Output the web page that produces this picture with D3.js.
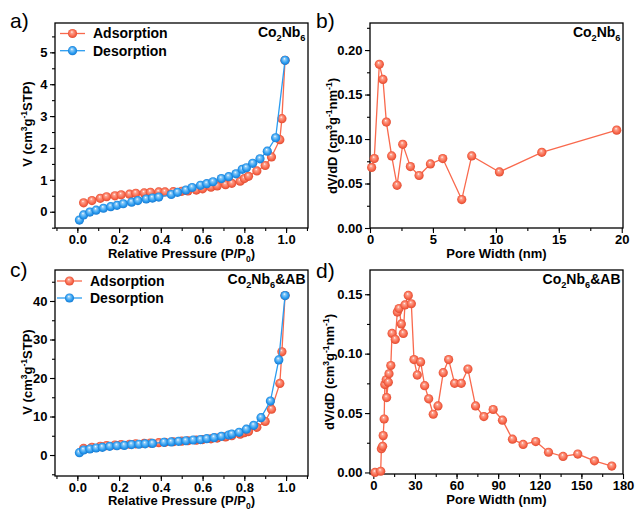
<!DOCTYPE html>
<html><head><meta charset="utf-8">
<script src="https://cdn.jsdelivr.net/npm/d3@7"></script>
<style>body{margin:0;background:#fff} text{font-family:"Liberation Sans",Arial,sans-serif;fill:#000}</style>
</head><body><svg id="chart" width="635" height="510"></svg>
<script>
// ---- Data ----
const isoA_adsP = [0.03,0.07,0.11,0.14,0.18,0.21,0.25,0.28,0.32,0.35,0.39,0.42,0.46,0.50,0.53,0.57,0.60,0.64,0.67,0.71,0.74,0.78,0.80,0.82,0.86,0.90,0.93,0.97,0.98,0.995];
const isoA_adsV = [0.28,0.35,0.42,0.47,0.50,0.53,0.55,0.58,0.59,0.61,0.62,0.62,0.63,0.64,0.65,0.68,0.72,0.77,0.81,0.85,0.89,0.96,1.04,1.11,1.28,1.45,1.72,2.26,2.92,4.75];
const isoA_desP = [0.01,0.03,0.06,0.09,0.125,0.16,0.19,0.22,0.26,0.29,0.33,0.36,0.39,0.45,0.48,0.52,0.55,0.59,0.62,0.65,0.69,0.725,0.76,0.79,0.81,0.84,0.875,0.91,0.95,0.995];
const isoA_desV = [-0.26,-0.10,-0.01,0.05,0.11,0.16,0.20,0.25,0.30,0.35,0.40,0.43,0.46,0.54,0.61,0.68,0.76,0.83,0.88,0.94,1.04,1.10,1.19,1.33,1.38,1.52,1.66,1.90,2.32,4.75];

const isoC_adsP = [0.03,0.07,0.11,0.14,0.18,0.21,0.25,0.28,0.32,0.35,0.39,0.42,0.46,0.50,0.53,0.57,0.60,0.64,0.67,0.71,0.74,0.78,0.80,0.82,0.86,0.90,0.93,0.97,0.98,0.995];
const isoC_adsV = [1.7,2.0,2.25,2.45,2.6,2.7,2.8,2.9,3.0,3.1,3.2,3.3,3.45,3.6,3.7,3.85,4.0,4.2,4.4,4.7,5.0,5.4,5.8,6.1,7.2,8.7,11.9,18.6,26.8,41.4];
const isoC_desP = [0.01,0.03,0.06,0.09,0.12,0.155,0.19,0.225,0.26,0.295,0.325,0.36,0.415,0.45,0.485,0.52,0.555,0.59,0.62,0.655,0.69,0.725,0.74,0.775,0.81,0.845,0.88,0.925,0.965,0.995];
const isoC_desV = [0.6,1.3,1.56,1.82,2.0,2.25,2.4,2.5,2.7,2.8,2.9,3.0,3.3,3.4,3.55,3.7,3.9,4.0,4.25,4.5,4.85,5.2,5.45,5.9,6.7,7.7,9.7,14.0,24.7,41.4];

const psdB_w = [0.13,0.34,0.74,1.03,1.30,1.72,2.15,2.60,3.21,3.90,4.80,5.78,7.29,8.08,10.28,13.65,19.6];
const psdB_v = [0.068,0.078,0.184,0.167,0.119,0.081,0.048,0.094,0.069,0.059,0.072,0.078,0.032,0.081,0.063,0.085,0.110];

const psdD_w = [1.2,5.3,5.8,6.7,7.1,7.8,8.3,9.3,9.6,10.8,11.3,12.6,13.5,15.8,17.3,18.5,20.2,21.6,22.8,25.2,27.4,29.3,31.7,34.1,37.0,39.9,43.2,46.6,50.4,54.3,58.6,63.4,68.2,73.7,79.7,86.4,93.1,100.3,108.0,117.1,126.3,136.8,147.4,159.4,171.9];
const psdD_v = [0.000,0.001,0.020,0.022,0.031,0.045,0.074,0.078,0.063,0.076,0.083,0.090,0.117,0.112,0.135,0.138,0.125,0.117,0.141,0.149,0.142,0.095,0.082,0.093,0.073,0.062,0.049,0.056,0.084,0.095,0.075,0.075,0.087,0.056,0.047,0.053,0.044,0.028,0.0236,0.026,0.017,0.0135,0.0155,0.0098,0.0054];

const pressureTicks = [0.0,0.2,0.4,0.6,0.8,1.0];
const vTicksA = [0,1,2,3,4,5];
const vTicksC = [0,10,20,30,40];
const widthTicksB = [0,5,10,15,20];
const widthTicksD = [0,30,60,90,120,150,180];
const dvTicksB = [0.00,0.05,0.10,0.15,0.20];
const dvTicksD = [0.00,0.05,0.10,0.15];
const seriesNames = ["Adsorption","Desorption"];

// ---- Drawing ----
const RED = "#F9694D", BLUE = "#2B9CF0";
const svg = d3.select("#chart");
const defs = svg.append("defs");
function grad(id, base, dark, light){
  const g = defs.append("radialGradient").attr("id", id)
    .attr("cx","50%").attr("cy","50%").attr("r","55%").attr("fx","42%").attr("fy","32%");
  g.append("stop").attr("offset","0%").attr("stop-color","#ffffff");
  g.append("stop").attr("offset","22%").attr("stop-color",light);
  g.append("stop").attr("offset","65%").attr("stop-color",base);
  g.append("stop").attr("offset","100%").attr("stop-color",dark);
}
grad("gRed", RED, "#D9442A", "#FCA491");
grad("gBlue", BLUE, "#1270C8", "#8FCBF7");

function rich(sel, parts, size){
  let prev = "n";
  parts.forEach(([t, m]) => {
    const ts = sel.append("tspan").text(t);
    let dy = 0;
    const sh = size * 0.38;
    if (prev === "n" && m === "sup") dy = -sh;
    if (prev === "sup" && m === "n") dy = sh;
    if (prev === "n" && m === "sub") dy = size*0.28;
    if (prev === "sub" && m === "n") dy = -size*0.28;
    if (dy) ts.attr("dy", dy);
    if (m !== "n") ts.attr("font-size", size*0.66);
    prev = m;
  });
}

function panel(c){
  const g = svg.append("g");
  const x = d3.scaleLinear().domain(c.xd).range([c.l, c.r]);
  const y = d3.scaleLinear().domain(c.yd).range([c.b, c.t]);
  const ax = d3.axisBottom(x).tickValues(c.xt).tickSize(5).tickFormat(c.xf);
  const axm = d3.axisBottom(x).tickValues(c.xm).tickSize(3).tickFormat("");
  const ay = d3.axisLeft(y).tickValues(c.yt).tickSize(5).tickFormat(c.yf);
  const aym = d3.axisLeft(y).tickValues(c.ym).tickSize(3).tickFormat("");
  [[axm,"b"],[ax,"b"],[aym,"l"],[ay,"l"]].forEach(([a, s]) => {
    const ag = g.append("g").attr("transform", s==="b" ? `translate(0,${c.b})` : `translate(${c.l},0)`).call(a);
    ag.select(".domain").remove();
    ag.selectAll("line").attr("stroke","#000").attr("stroke-width",1.1);
    ag.selectAll("text").attr("font-size",13).attr("font-weight","bold")
      .attr("font-family",'"Liberation Sans",Arial,sans-serif').attr("fill","#000");
    if (s==="b") ag.selectAll("text").attr("dy",null).attr("y", 15.5);
    else ag.selectAll("text").attr("x",-7.5);
  });
  g.append("rect").attr("x",c.l).attr("y",c.t).attr("width",c.r-c.l).attr("height",c.b-c.t)
    .attr("fill","none").attr("stroke","#000").attr("stroke-width",1.3);
  const pg = g.append("g");
  c.series.forEach(s => {
    const pts = s.xs.map((v,i)=>[v, s.ys[i]]);
    pg.append("path").attr("d", d3.line().x(d=>x(d[0])).y(d=>y(d[1]))(pts))
      .attr("fill","none").attr("stroke",s.color).attr("stroke-width",1.3);
    pg.selectAll(null).data(pts).enter().append("circle")
      .attr("cx",d=>x(d[0])).attr("cy",d=>y(d[1])).attr("r",4.6)
      .attr("fill",`url(#${s.grad})`);
  });
  const xt = g.append("text").attr("x",(c.l+c.r)/2).attr("y",c.xlY).attr("text-anchor","middle")
    .attr("font-size",13).attr("font-weight","bold");
  rich(xt, c.xl, 13);
  const yt = g.append("text").attr("transform",`translate(${c.ylX},${c.ylY}) rotate(-90)`)
    .attr("text-anchor","middle").attr("font-size",13).attr("font-weight","bold");
  rich(yt, c.yl, 13);
  g.append("text").attr("x",c.lx).attr("y",c.ly).attr("font-size",21).text(c.letter);
  const st = g.append("text").attr("x",c.r-2.5).attr("y",c.sy).attr("text-anchor","end")
    .attr("font-size",14).attr("font-weight","bold");
  rich(st, c.sample, 14);
  if (c.legend){
    c.series.forEach((s,i) => {
      const ly = c.legend.y + i*c.legend.dy;
      g.append("line").attr("x1",c.legend.x1).attr("x2",c.legend.x2).attr("y1",ly).attr("y2",ly)
        .attr("stroke",s.color).attr("stroke-width",1.3);
      g.append("circle").attr("cx",(c.legend.x1+c.legend.x2)/2).attr("cy",ly).attr("r",4.6)
        .attr("fill",`url(#${s.grad})`);
      g.append("text").attr("x",c.legend.tx).attr("y",ly+4.8).attr("font-size",14)
        .attr("font-weight","bold").text(seriesNames[i]);
    });
  }
}

const f1 = d3.format(".1f"), f0 = d3.format("d"), f2 = d3.format(".2f");
const xTitleP = [["Relative Pressure (P/P","n"],["0","sub"],[")","n"]];
const yTitleV = [["V (cm","n"],["3","sup"],["g","n"],["-1","sup"],["STP)","n"]];
const yTitleD = [["dV/dD (cm","n"],["3","sup"],["g","n"],["-1","sup"],["nm","n"],["-1","sup"],[")","n"]];
const sampA = [["Co","n"],["2","sub"],["Nb","n"],["6","sub"]];
const sampC = [["Co","n"],["2","sub"],["Nb","n"],["6","sub"],["&AB","n"]];
const range = (a,b,s)=>d3.range(a,b+s/2,s);

panel({id:"a", l:55, r:308, t:23, b:228, xd:[-0.107,1.105], yd:[-0.51,5.92],
  xt:pressureTicks, xm:range(-0.1,1.1,0.1), xf:f1, yt:vTicksA, ym:range(-0.5,5.5,0.5), yf:f0,
  series:[{xs:isoA_adsP, ys:isoA_adsV, color:RED, grad:"gRed"},{xs:isoA_desP, ys:isoA_desV, color:BLUE, grad:"gBlue"}],
  xl:xTitleP, xlY:258, yl:yTitleV, ylX:31.5, ylY:124, letter:"a)", lx:10, ly:28, sample:sampA, sy:37,
  legend:{x1:60, x2:85, y:33.5, dy:17.2, tx:93}});
panel({id:"b", l:370, r:623, t:23, b:228, xd:[0,20.1], yd:[0,0.2304],
  xt:widthTicksB, xm:range(2.5,17.5,2.5), xf:f0, yt:dvTicksB, ym:range(0.025,0.225,0.025), yf:f2,
  series:[{xs:psdB_w, ys:psdB_v, color:RED, grad:"gRed"}],
  xl:[["Pore Width (nm)","n"]], xlY:258, yl:yTitleD, ylX:336.5, ylY:136, letter:"b)", lx:316, ly:28, sample:sampA, sy:37});
panel({id:"c", l:55, r:308, t:270, b:476, xd:[-0.107,1.105], yd:[-5.45,48.05],
  xt:pressureTicks, xm:range(-0.1,1.1,0.1), xf:f1, yt:vTicksC, ym:range(-5,45,5), yf:f0,
  series:[{xs:isoC_adsP, ys:isoC_adsV, color:RED, grad:"gRed"},{xs:isoC_desP, ys:isoC_desV, color:BLUE, grad:"gBlue"}],
  xl:xTitleP, xlY:505, yl:yTitleV, ylX:31.5, ylY:372, letter:"c)", lx:10, ly:277, sample:sampC, sy:284,
  legend:{x1:57, x2:82, y:281, dy:17, tx:90}});
panel({id:"d", l:370, r:623, t:270, b:474, xd:[-2.4,180], yd:[-0.0013,0.1704],
  xt:widthTicksD, xm:range(15,165,15), xf:f0, yt:dvTicksD, ym:range(0.025,0.175,0.025).filter(v=>v<0.17), yf:f2,
  series:[{xs:psdD_w, ys:psdD_v, color:RED, grad:"gRed"}],
  xl:[["Pore Width (nm)","n"]], xlY:504, yl:yTitleD, ylX:333.5, ylY:372, letter:"d)", lx:316, ly:278, sample:sampC, sy:284});
</script></body></html>
